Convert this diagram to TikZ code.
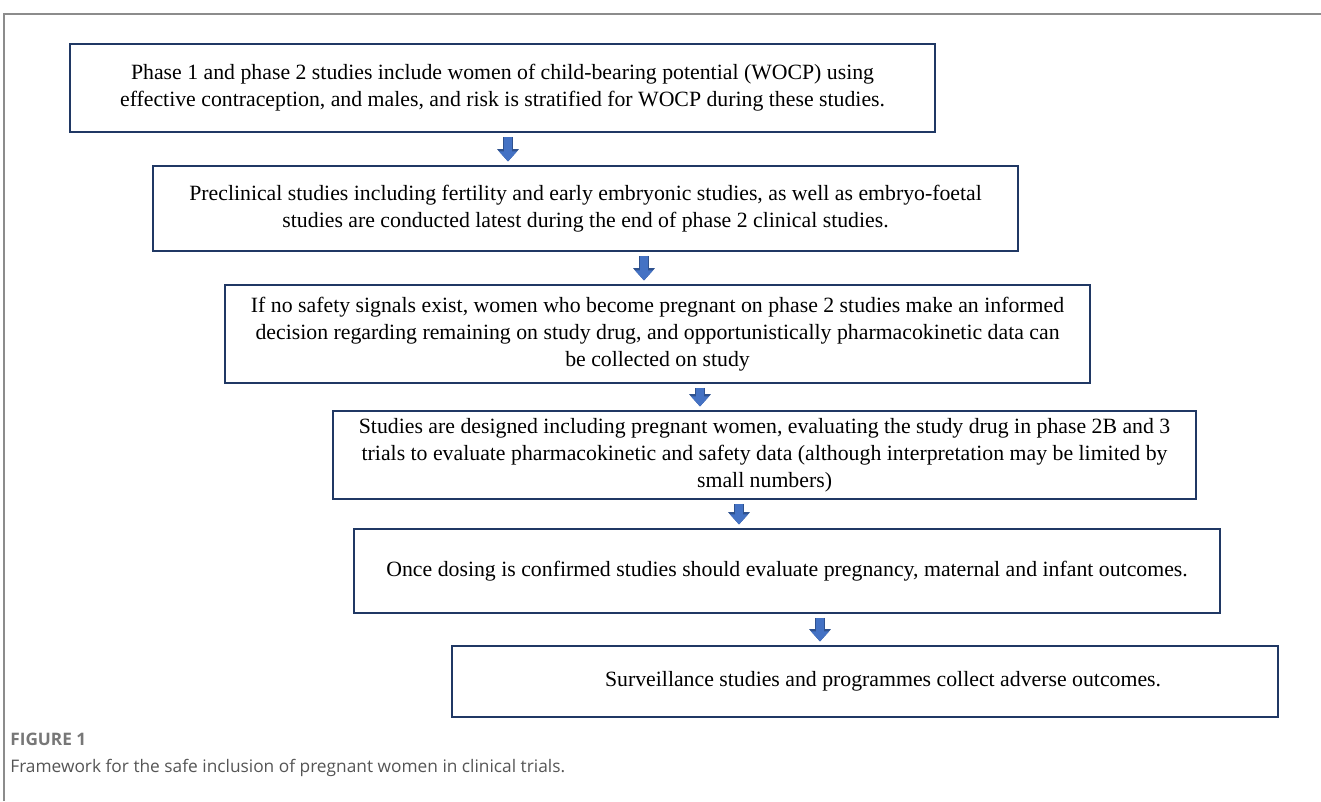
\documentclass[tikz,border=0pt]{standalone}
\usepackage{fontspec}
\setmainfont{Liberation Serif}
\newfontfamily\capfont{Open Sans}
\usetikzlibrary{arrows.meta}

\definecolor{boxedge}{HTML}{203864}
\definecolor{arrowblue}{HTML}{4472C4}
\definecolor{arrowedge}{HTML}{2F528F}
\definecolor{framegrey}{HTML}{8C8C8C}
\definecolor{capgrey}{HTML}{777777}
\definecolor{captext}{HTML}{555555}

\tikzset{
  stage/.style={draw=boxedge, line width=1.3pt, anchor=north west, align=center,
    inner sep=0pt, font=\fontsize{12.4}{15.4}\selectfont},
  flow/.style={shorten <=2pt, shorten >=2pt,
    preaction={draw=arrowedge, line width=5.6pt, -{Triangle[length=7pt, width=12pt]}},
    draw=arrowblue, line width=4.4pt, -{Triangle[length=5.8pt, width=10pt]}},
}

\begin{document}
\begin{tikzpicture}[x=0.02cm, y=-0.02cm]
\useasboundingbox (0,0) rectangle (1321,801);
% page frame
\draw[framegrey, line width=0.6pt] (4,801) -- (4,14) -- (1321,14);

% stages
\node[stage, minimum width=17.30cm, minimum height=1.76cm] (s1) at (69,43)
  {Phase 1 and phase 2 studies include women of child-bearing potential (WOCP) using\\
   effective contraception, and males, and risk is stratified for WOCP during these studies.};
\node[stage, minimum width=17.30cm, minimum height=1.70cm] (s2) at (152,165)
  {Preclinical studies including fertility and early embryonic studies, as well as embryo-foetal\\
   studies are conducted latest during the end of phase 2 clinical studies.};
\node[stage, minimum width=17.30cm, minimum height=1.96cm] (s3) at (224,284)
  {If no safety signals exist, women who become pregnant on phase 2 studies make an informed\\
   decision regarding remaining on study drug, and opportunistically pharmacokinetic data can\\
   be collected on study};
\node[stage, minimum width=17.26cm, minimum height=1.76cm] (s4) at (332,410)
  {Studies are designed including pregnant women, evaluating the study drug in phase 2B and 3\\
   trials to evaluate pharmacokinetic and safety data (although interpretation may be limited by\\
   small numbers)};
\node[stage, minimum width=17.32cm, minimum height=1.68cm] (s5) at (353,528)
  {Once dosing is confirmed studies should evaluate pregnancy, maternal and infant outcomes.};
\node[stage, minimum width=16.52cm, minimum height=1.42cm] (s6) at (451,645)
  {\hspace*{0.72cm}Surveillance studies and programmes collect adverse outcomes.};

% arrows
\coordinate (c1) at (508,0);
\coordinate (c2) at (644,0);
\coordinate (c3) at (700,0);
\coordinate (c4) at (739,0);
\coordinate (c5) at (820,0);
\draw[flow] (c1 |- s1.south) -- (c1 |- s2.north);
\draw[flow] (c2 |- s2.south) -- (c2 |- s3.north);
\draw[flow] (c3 |- s3.south) -- (c3 |- s4.north);
\draw[flow] (c4 |- s4.south) -- (c4 |- s5.north);
\draw[flow] (c5 |- s5.south) -- (c5 |- s6.north);

% caption
\node[anchor=base west, inner sep=0pt, text=capgrey,
  font=\capfont\bfseries\fontsize{9.8}{11}\selectfont] (figno) at (10,745) {FIGURE 1};
\node[anchor=base west, inner sep=0pt, text=captext,
  font=\capfont\fontsize{9.85}{12}\selectfont] (figcap) at (10,772)
  {Framework for the safe inclusion of pregnant women in clinical trials.};
\end{tikzpicture}
\end{document}
